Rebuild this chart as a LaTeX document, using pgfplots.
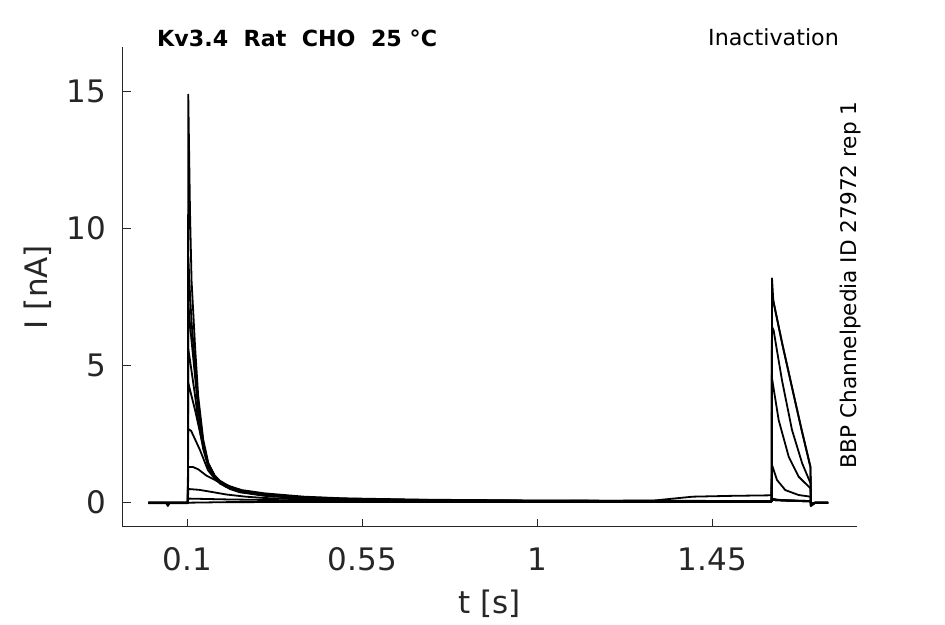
\documentclass[border=0pt]{standalone}
\usepackage{fontspec}
\setmainfont{DejaVu Sans}
\usepackage{pgfplots}
\pgfplotsset{compat=1.18}
\definecolor{axgray}{HTML}{262626}
\begin{document}
\begin{tikzpicture}
\useasboundingbox (0,0) rectangle (945pt,624pt);
\begin{axis}[
 at={(122.5pt,97.3pt)}, anchor=south west,
 scale only axis, width=734.2pt, height=479.4pt,
 xmin=-0.0666, xmax=1.8213, ymin=-0.876, ymax=16.62,
 axis lines*=left, axis line style={-, draw=axgray, line width=1pt},
 tick align=inside, major tick length=8pt, tick style={draw=axgray, line width=1pt},
 xtick={0.1,0.55,1,1.45}, xticklabels={0.1,0.55,1,1.45},
 ytick={0,5,10,15}, yticklabels={0,5,10,15},
 /pgf/number format/assume math mode=true,
 ticklabel style={font=\fontsize{31}{31}\selectfont, text=axgray, inner sep=0pt},
 xticklabel style={anchor=north, yshift=-21pt},
 yticklabel style={anchor=east, xshift=-16pt},
 xlabel={t [s]}, ylabel={I [nA]},
 label style={font=\fontsize{31}{31}\selectfont, text=axgray, inner sep=0pt},
 xlabel style={at={(axis description cs:0.5,-0.1606)}, anchor=center},
 ylabel style={at={(axis description cs:-0.1151,0.5)}, anchor=center},
 every axis plot post/.append style={black, solid, mark=none, line width=1.8pt, line join=round},
]
% T9: largest prepulse current
\addplot coordinates {(0,-0.02) (0.1015,-0.02) (0.1025,14.9) (0.107,10.6) (0.111,8.1) (0.12,5.7) (0.128,3.9) (0.141,2.3) (0.154,1.45) (0.17,1.0) (0.184,0.8) (0.21,0.58) (0.235,0.45) (0.27,0.36) (0.3,0.3) (0.35,0.24) (0.4,0.2) (0.5,0.15) (0.6,0.12) (0.8,0.09) (1.0,0.07) (1.3,0.06) (1.6025,0.05) (1.603,0.12) (1.65,0.08) (1.7025,0.06) (1.704,-0.05) (1.715,0) (1.748,0)};
% T8
\addplot coordinates {(0,0) (0.1015,0) (0.1025,9.0) (0.107,7.6) (0.111,6.6) (0.12,5.0) (0.128,3.6) (0.141,2.2) (0.154,1.4) (0.17,0.98) (0.184,0.76) (0.21,0.55) (0.235,0.43) (0.3,0.28) (0.4,0.18) (0.5,0.13) (0.7,0.09) (1.0,0.06) (1.3,0.05) (1.6025,0.05) (1.603,0.1) (1.65,0.07) (1.7025,0.05) (1.704,-0.04) (1.715,0) (1.748,0)};
% T7
\addplot coordinates {(0,0) (0.1015,0) (0.1025,7.3) (0.107,6.5) (0.111,5.9) (0.12,4.6) (0.128,3.4) (0.141,2.1) (0.154,1.35) (0.17,0.95) (0.184,0.72) (0.21,0.52) (0.235,0.4) (0.3,0.26) (0.4,0.17) (0.5,0.12) (0.7,0.08) (1.0,0.06) (1.6025,0.05) (1.603,0.1) (1.65,0.07) (1.7025,0.05) (1.704,-0.04) (1.715,0) (1.748,0)};
% T6
\addplot coordinates {(0,0) (0.1015,0) (0.1025,5.6) (0.107,5.2) (0.111,4.8) (0.12,3.9) (0.128,3.0) (0.141,1.95) (0.154,1.3) (0.17,0.92) (0.184,0.7) (0.21,0.5) (0.235,0.38) (0.3,0.25) (0.4,0.16) (0.5,0.11) (0.7,0.07) (1.0,0.05) (1.6025,0.05) (1.603,0.1) (1.65,0.07) (1.7025,0.05) (1.704,-0.04) (1.715,0) (1.748,0)};
% T5
\addplot coordinates {(0,0) (0.1015,0) (0.1025,4.37) (0.12,3.38) (0.137,2.29) (0.153,1.45) (0.17,1.0) (0.187,0.72) (0.21,0.52) (0.24,0.4) (0.3,0.27) (0.4,0.17) (0.5,0.12) (0.7,0.08) (1.0,0.06) (1.6025,0.05) (1.603,0.15) (1.62,0.1) (1.7025,0.06) (1.704,-0.05) (1.715,0) (1.748,0)};
% T4
\addplot coordinates {(0,0) (0.1015,0) (0.1025,2.69) (0.11,2.62) (0.1327,1.92) (0.153,1.19) (0.175,0.8) (0.2,0.58) (0.24,0.42) (0.3,0.3) (0.4,0.19) (0.5,0.13) (0.7,0.09) (1.0,0.07) (1.3,0.06) (1.6025,0.06) (1.6035,1.38) (1.6163,0.83) (1.6377,0.46) (1.672,0.28) (1.7025,0.22) (1.7035,-0.06) (1.715,0) (1.748,0)};
% T3
\addplot coordinates {(0,0) (0.1015,0) (0.1025,1.3) (0.115,1.3) (0.128,1.22) (0.15,0.98) (0.18,0.77) (0.21,0.6) (0.24,0.46) (0.3,0.34) (0.4,0.22) (0.5,0.16) (0.7,0.11) (1.0,0.08) (1.3,0.07) (1.6025,0.06) (1.6035,4.54) (1.6206,3.02) (1.6464,1.68) (1.672,0.95) (1.7025,0.52) (1.7035,-0.1) (1.715,0) (1.748,0)};
% T2
\addplot coordinates {(0,0) (0.1015,0) (0.1025,0.5) (0.13,0.47) (0.16,0.4) (0.2,0.3) (0.25,0.22) (0.3,0.17) (0.4,0.12) (0.5,0.09) (0.7,0.07) (1.0,0.06) (1.3,0.06) (1.6025,0.05) (1.6035,6.42) (1.6075,6.3) (1.629,4.48) (1.655,2.65) (1.681,1.44) (1.7025,0.71) (1.7035,-0.12) (1.715,0) (1.748,0)};
% T1
\addplot coordinates {(0,0) (0.1015,0) (0.1025,0.15) (0.2,0.12) (0.4,0.08) (0.7,0.06) (1.0,0.06) (1.3,0.08) (1.4,0.22) (1.5,0.25) (1.6025,0.27) (1.6035,7.6) (1.608,7.3) (1.63,5.78) (1.66,3.88) (1.68,2.62) (1.7025,1.28) (1.7035,-0.1) (1.715,0) (1.748,0)};
% T0
\addplot coordinates {(0,0) (0.045,0) (0.05,-0.12) (0.055,0) (0.1025,0) (0.2,0.02) (0.6,0.03) (1.0,0.03) (1.6025,0.03) (1.6035,8.19) (1.607,7.34) (1.63,5.8) (1.66,3.9) (1.68,2.65) (1.7025,1.31) (1.7035,-0.12) (1.712,0) (1.748,0)};
\end{axis}
\node[anchor=base west, inner sep=0pt, font=\fontsize{22.2}{22.2}\selectfont\bfseries] at (157pt,577.3pt) {Kv3.4~~Rat~~CHO~~25~°C};
\node[anchor=base east, inner sep=0pt, font=\fontsize{22.2}{22.2}\selectfont] at (839pt,578pt) {Inactivation};
\node[anchor=base west, rotate=90, inner sep=0pt, font=\fontsize{21.6}{21.6}\selectfont] at (856.7pt,155.7pt) {BBP Channelpedia ID 27972 rep 1};
\end{tikzpicture}
\end{document}
